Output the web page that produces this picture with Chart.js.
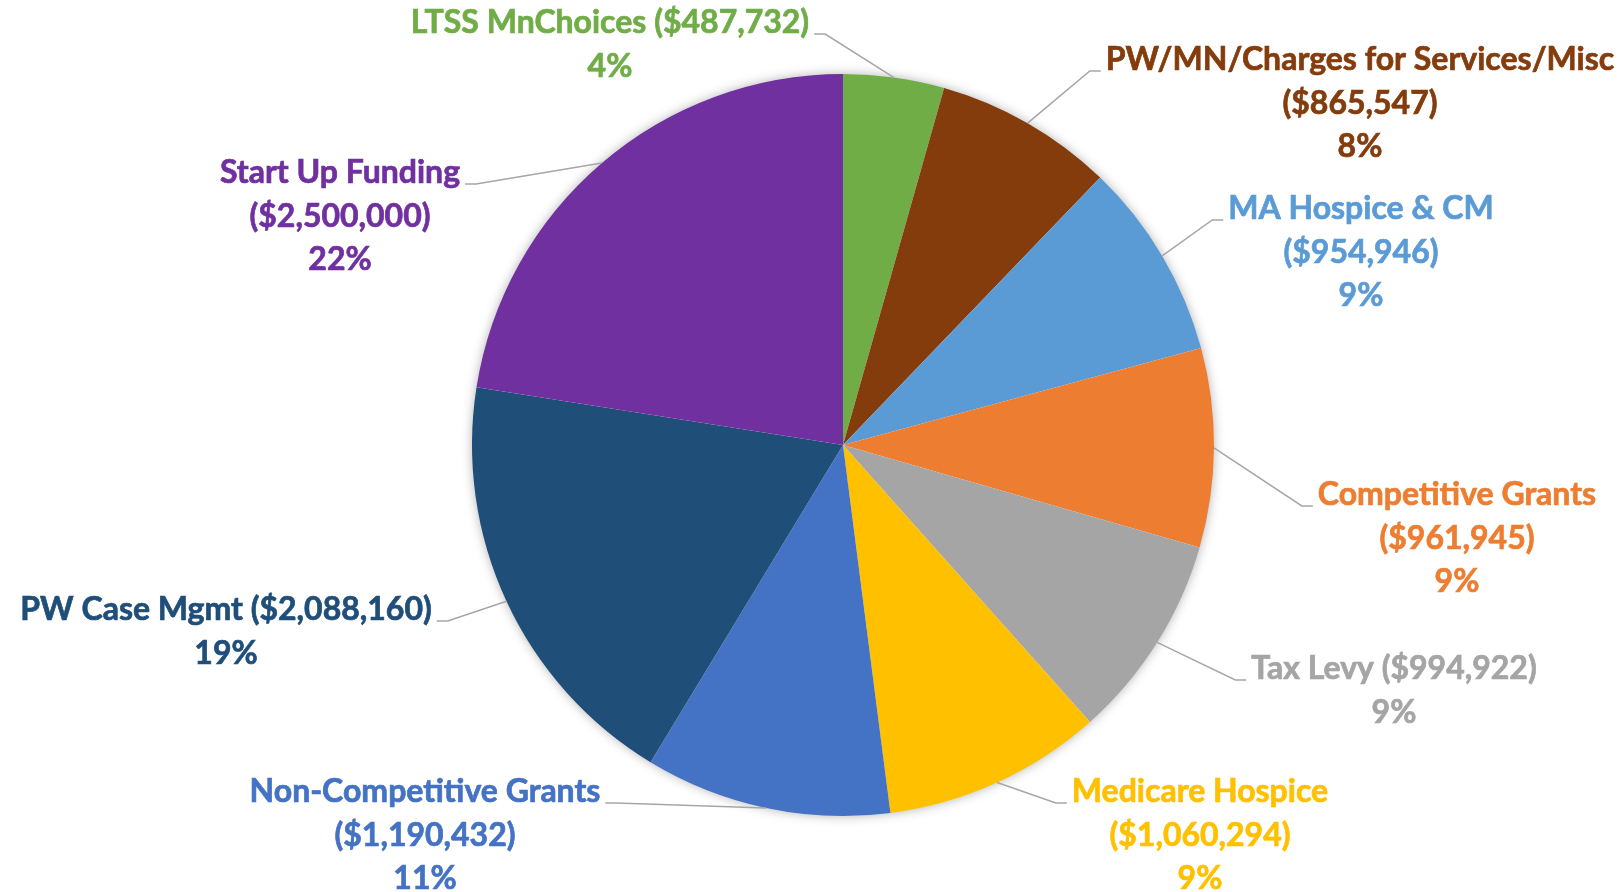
<!DOCTYPE html>
<html>
<head>
<meta charset="utf-8">
<script src="https://cdn.jsdelivr.net/npm/chart.js@4/dist/chart.umd.min.js"></script>
<style>
  html, body { margin: 0; padding: 0; background: #fff; }
  #wrap { width: 1624px; height: 892px; position: relative; }
</style>
</head>
<body>
<div id="wrap"><canvas id="fundChart"></canvas></div>
<script>
const categories = [
  'LTSS MnChoices',
  'PW/MN/Charges for Services/Misc',
  'MA Hospice & CM',
  'Competitive Grants',
  'Tax Levy',
  'Medicare Hospice',
  'Non-Competitive Grants',
  'PW Case Mgmt',
  'Start Up Funding'
];
const amounts = [487732, 865547, 954946, 961945, 994922, 1060294, 1190432, 2088160, 2500000];
const percentLabels = ['4%', '8%', '9%', '9%', '9%', '9%', '11%', '19%', '22%'];
const sliceColors = ['#70AD47', '#843C0C', '#5B9BD5', '#ED7D31', '#A5A5A5', '#FFC000', '#4472C4', '#1F4E79', '#7030A0'];

// label placement: offset of the first line's baseline from the pie centre,
// whether the amount sits on the same line as the name, and which side the leader joins
const labelLayout = [
  { dx: -233, dy: -412, inline: true,  side: 'right' },
  { dx: 517,  dy: -375, inline: false, side: 'left' },
  { dx: 518,  dy: -226, inline: false, side: 'left' },
  { dx: 614,  dy: 60,   inline: false, side: 'left' },
  { dx: 551,  dy: 234,  inline: true,  side: 'left' },
  { dx: 357,  dy: 357,  inline: false, side: 'left' },
  { dx: -418, dy: 357,  inline: false, side: 'right' },
  { dx: -617, dy: 175,  inline: true,  side: 'right' },
  { dx: -503, dy: -262, inline: false, side: 'right' }
];

const LABEL_FONT = 'bold 32px Lato, "Open Sans", sans-serif';
const LINE_GAP = 43.5;

function money(v) {
  return '($' + v.toLocaleString('en-US') + ')';
}

const callouts = {
  id: 'callouts',
  beforeDatasetsDraw(chart) {
    // soft shadow around the whole pie
    const arc = chart.getDatasetMeta(0).data[0];
    const ctx = chart.ctx;
    ctx.save();
    ctx.shadowColor = 'rgba(0,0,0,0.35)';
    ctx.shadowBlur = 12;
    ctx.fillStyle = '#fff';
    ctx.beginPath();
    ctx.arc(arc.x, arc.y, arc.outerRadius - 1, 0, Math.PI * 2);
    ctx.fill();
    ctx.restore();
  },
  afterDatasetsDraw(chart) {
    const ctx = chart.ctx;
    const meta = chart.getDatasetMeta(0);
    ctx.save();
    ctx.font = LABEL_FONT;
    ctx.textAlign = 'center';
    ctx.textBaseline = 'alphabetic';
    meta.data.forEach((arc, i) => {
      const lay = labelLayout[i];
      const mid = (arc.startAngle + arc.endAngle) / 2;
      const ex = arc.x + Math.cos(mid) * arc.outerRadius;
      const ey = arc.y + Math.sin(mid) * arc.outerRadius;
      const cx = arc.x + lay.dx;
      const by = arc.y + lay.dy;

      const lines = lay.inline
        ? [categories[i] + ' ' + money(amounts[i]), percentLabels[i]]
        : [categories[i], money(amounts[i]), percentLabels[i]];

      // leader line: short horizontal tick beside the first line, then to the slice edge
      const half = ctx.measureText(lines[0]).width / 2;
      const dir = lay.side === 'right' ? 1 : -1;
      const x0 = cx + dir * (half + 5);
      const x1 = x0 + dir * 11;
      const ly = by + 1;
      ctx.strokeStyle = '#A6A6A6';
      ctx.lineWidth = 1.5;
      ctx.beginPath();
      ctx.moveTo(x0, ly);
      ctx.lineTo(x1, ly);
      ctx.lineTo(ex, ey);
      ctx.stroke();

      // thin outline in the same colour to give the labels a heavier weight
      ctx.fillStyle = sliceColors[i];
      ctx.strokeStyle = sliceColors[i];
      ctx.lineWidth = 0.7;
      lines.forEach((t, k) => {
        ctx.fillText(t, cx, by + k * LINE_GAP);
        ctx.strokeText(t, cx, by + k * LINE_GAP);
      });
    });
    ctx.restore();
  }
};

new Chart(document.getElementById('fundChart'), {
  type: 'pie',
  data: {
    labels: categories,
    datasets: [{
      data: amounts,
      backgroundColor: sliceColors,
      borderWidth: 0
    }]
  },
  options: {
    responsive: true,
    maintainAspectRatio: false,
    animation: false,
    layout: { padding: { top: 74, bottom: 76, left: 62, right: 0 } },
    plugins: {
      legend: { display: false },
      tooltip: { enabled: false }
    }
  },
  plugins: [callouts]
});
</script>
</body>
</html>
